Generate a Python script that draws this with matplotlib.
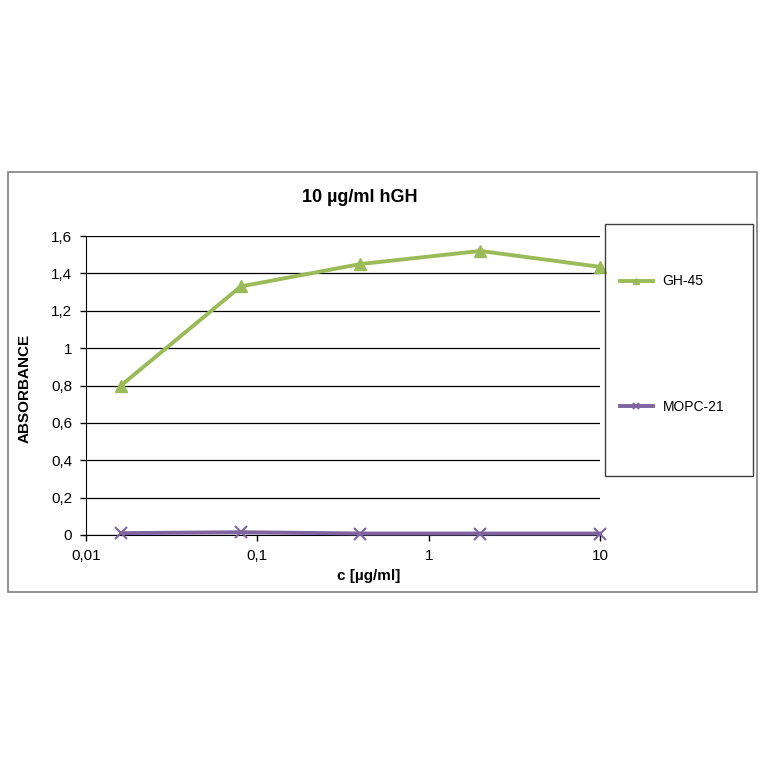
import matplotlib.pyplot as plt
from matplotlib.patches import Rectangle
from matplotlib.ticker import FixedLocator, NullLocator

plt.rcParams['font.family'] = ['Liberation Sans', 'DejaVu Sans']

# Konzentrationen (5-fach Verdünnung)
konz = [0.016, 0.08, 0.4, 2, 10]
gh45 = [0.80, 1.33, 1.45, 1.52, 1.435]
mopc21 = [0.010, 0.015, 0.008, 0.008, 0.008]

y_ticks = [0, 0.2, 0.4, 0.6, 0.8, 1.0, 1.2, 1.4, 1.6]
y_labels = ['0', '0,2', '0,4', '0,6', '0,8', '1', '1,2', '1,4', '1,6']
x_ticks = [0.01, 0.1, 1, 10]
x_labels = ['0,01', '0,1', '1', '10']

verde = '#9BBB59'
roxo = '#8064A2'

fig = plt.figure(figsize=(7.64, 7.64), dpi=100)
W = H = 764.0

# moldura externa do gráfico
fig.patches.append(Rectangle((8 / W, 1 - 592 / H), 749 / W, 420 / H,
                             transform=fig.transFigure, fill=False,
                             edgecolor='#808080', linewidth=1.2))
# caixa da legenda
fig.patches.append(Rectangle((605 / W, 1 - 476 / H), 148 / W, 252 / H,
                             transform=fig.transFigure, fill=False,
                             edgecolor='#404040', linewidth=1.0))

ax = fig.add_axes([86 / W, 1 - 535 / H, 514 / W, 299 / H])
ax.plot(konz, gh45, color=verde, linewidth=2.8, marker='^', markersize=9,
        label='GH-45', clip_on=False, zorder=3)
ax.plot(konz, mopc21, color=roxo, linewidth=2.8, marker='x', markersize=8,
        markeredgewidth=1.5, label='MOPC-21', clip_on=False, zorder=3)

ax.set_xscale('log')
ax.set_xlim(0.01, 10)
ax.set_ylim(0, 1.6)
ax.xaxis.set_major_locator(FixedLocator(x_ticks))
ax.xaxis.set_minor_locator(NullLocator())
ax.set_xticklabels(x_labels, fontsize=11)
ax.set_yticks(y_ticks)
ax.set_yticklabels(y_labels, fontsize=11)
ax.tick_params(axis='both', direction='out', length=4, width=1, color='black')
ax.tick_params(axis='x', pad=6)
ax.tick_params(axis='y', pad=6)

ax.yaxis.grid(True, color='black', linewidth=0.9)
ax.set_axisbelow(True)
for s in ['top', 'right']:
    ax.spines[s].set_visible(False)
ax.spines['left'].set_color('black')
ax.spines['bottom'].set_color('black')

fig.text(360 / W, 1 - 197 / H, '10 µg/ml hGH', fontsize=13, fontweight='bold',
         ha='center', va='center')
fig.text(369 / W, 1 - 576 / H, 'c [µg/ml]', fontsize=11, fontweight='bold',
         ha='center', va='center')
fig.text(25 / W, 1 - 388 / H, 'ABSORBANCE', fontsize=11, fontweight='bold',
         ha='center', va='center', rotation=90)

handles, labels = ax.get_legend_handles_labels()
leg = fig.legend(handles, labels, loc='center left',
                 bbox_to_anchor=(607 / W, 1 - 344 / H), frameon=False,
                 fontsize=10, labelspacing=8.0, handlelength=2.4,
                 handletextpad=0.7, markerscale=0.5)

fig.savefig('out.png', dpi=100, facecolor='white')
